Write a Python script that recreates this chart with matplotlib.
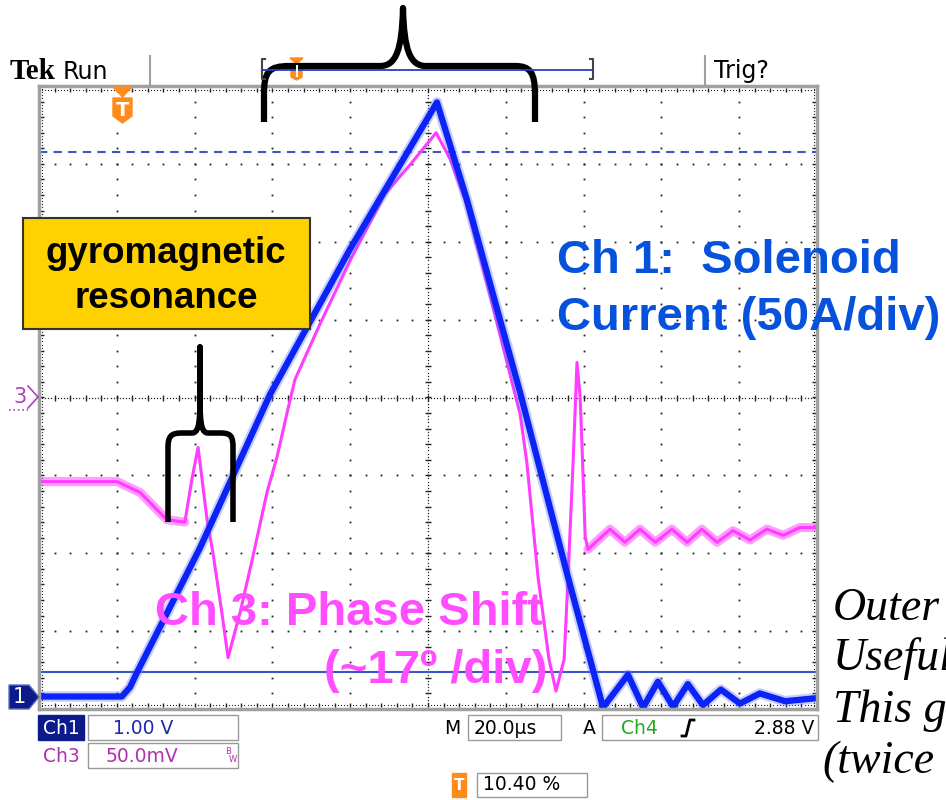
import numpy as np
import matplotlib.pyplot as plt
from matplotlib.path import Path
from matplotlib.patches import PathPatch, Rectangle, Polygon

# scope screen: 20 us/div over 10 div, levels in screen divisions (-4..4)
ch1_t = [0.0, 21.3, 23.4, 25.2, 41.4, 59.4, 79.9, 102.3, 110.0, 123.7, 136.0,
         145.0, 151.4, 155.3, 159.1, 163.0, 166.8, 170.7, 175.3, 180.2, 185.3,
         191.8, 200.0]
ch1_v = [-3.84, -3.84, -3.72, -3.53, -1.93, 0.04, 1.90, 3.79, 2.54, 0.06, -2.31,
         -3.98, -3.56, -3.98, -3.65, -3.97, -3.68, -3.95, -3.75, -3.93, -3.80,
         -3.90, -3.86]

ch3_t = [0.0, 20.1, 26.0, 30.3, 32.9, 37.5, 39.3, 40.9, 43.2, 44.7, 47.0, 48.6,
         51.7, 55.0, 58.6, 61.2, 63.8, 65.8, 72.2, 79.9, 88.9, 95.4, 102.1,
         105.7, 109.5, 115.9, 123.7, 125.4, 128.3, 131.1, 132.9, 135.0, 136.0,
         137.3, 138.3, 139.1, 139.6, 140.4, 141.1, 146.8, 150.6, 154.5, 158.4,
         162.7, 166.6, 170.4, 174.3, 178.4, 182.8, 187.1, 191.3, 195.6, 200.0]
ch3_v = [-1.08, -1.08, -1.22, -1.44, -1.57, -1.60, -1.05, -0.64, -1.57, -1.99,
         -2.76, -3.34, -2.76, -2.04, -1.22, -0.76, -0.19, 0.23, 0.94, 1.75, 2.61,
         2.99, 3.40, 3.06, 2.54, 1.32, -0.22, -0.83, -2.31, -3.36, -3.77, -3.36,
         -2.31, -0.83, 0.45, 0.01, -0.63, -1.78, -1.95, -1.69, -1.86, -1.69,
         -1.86, -1.69, -1.86, -1.69, -1.86, -1.71, -1.83, -1.69, -1.77, -1.67,
         -1.67]

cursor_dash = 3.15
cursor_solid = -3.53

BLUE = '#0b24f5'
MAG = '#ff3cff'
TXT_BLUE = '#0652dd'
TXT_MAG = '#ff4dff'
ORANGE = '#ff8c1a'
NAVY = '#0c1a8a'

fig = plt.figure(figsize=(9.46, 8), dpi=100)
ax = fig.add_axes([39/946, 91/800, 778/946, 623/800])
ax.set_xlim(0, 200)
ax.set_ylim(-4, 4)
ax.set_xticks([])
ax.set_yticks([])
for s in ax.spines.values():
    s.set_color('#a0a0a0')
    s.set_linewidth(2.5)

# graticule
dk = '#222222'
for gx in range(20, 200, 20):
    if gx == 100:
        continue
    ys = np.arange(-3.8, 3.81, 0.2)
    ax.plot([gx]*len(ys), ys, ls='none', marker='s', ms=1.3, mew=0, color=dk)
for gy in [-3, -2, -1, 1, 2, 3]:
    xs = np.arange(4, 197, 4)
    ax.plot(xs, [gy]*len(xs), ls='none', marker='s', ms=1.3, mew=0, color=dk)
# centre lines
ys = np.arange(-4, 4.001, 0.04)
ax.plot([100]*len(ys), ys, ls='none', marker='s', ms=0.9, mew=0, color=dk)
yt = np.arange(-3.8, 3.81, 0.2)
ax.plot([100]*len(yt), yt, ls='none', marker='_', ms=5, mew=1, color=dk)
xs = np.arange(0, 200.01, 0.8)
ax.plot(xs, [0]*len(xs), ls='none', marker='s', ms=0.9, mew=0, color=dk)
xt = np.arange(4, 197, 4)
ax.plot(xt, [0]*len(xt), ls='none', marker='|', ms=5, mew=1, color=dk)
# border rulers
xs = np.arange(0.8, 199.3, 0.8)
for by in (3.95, -3.95):
    ax.plot(xs, [by]*len(xs), ls='none', marker='s', ms=0.8, mew=0, color=dk)
    ax.plot(xt, [by]*len(xt), ls='none', marker='|', ms=3.5, mew=1, color=dk)
ys = np.arange(-3.96, 3.97, 0.04)
for bx in (0.8, 199.2):
    ax.plot([bx]*len(ys), ys, ls='none', marker='s', ms=0.8, mew=0, color=dk)
    ax.plot([bx]*len(yt), yt, ls='none', marker='_', ms=3.5, mew=1, color=dk)

# cursors
ax.axhline(cursor_dash, color='#3a56c8', lw=1.5, dashes=(4, 3))
ax.axhline(cursor_solid, color='#3a56c8', lw=1.5)

# traces
t3 = np.array(ch3_t)
v3 = np.array(ch3_v)
flat1 = t3 <= 37.5
flat2 = t3 >= 141.1
ax.plot(t3[flat1], v3[flat1], color=MAG, lw=6.5, alpha=0.5, solid_capstyle='round')
ax.plot(t3[flat2], v3[flat2], color=MAG, lw=6.5, alpha=0.5, solid_capstyle='round')
ax.plot(t3, v3, color=MAG, lw=2.2, solid_joinstyle='round')
ax.plot(ch1_t, ch1_v, color='#5a70ff', lw=7.5, alpha=0.35, solid_joinstyle='round')
ax.plot(ch1_t, ch1_v, color=BLUE, lw=4.5, solid_joinstyle='round')

# overlay in pixel coordinates
ov = fig.add_axes([0, 0, 1, 1], zorder=5)
ov.set_xlim(0, 946)
ov.set_ylim(800, 0)
ov.axis('off')

# header
ov.text(10, 79, 'Tek', family='Liberation Serif', weight='bold', fontsize=21)
ov.text(63, 79, 'Run', family='DejaVu Sans', fontsize=17)
ov.text(714, 78, 'Trig?', family='DejaVu Sans', fontsize=17)
ov.plot([150, 150], [56, 84], color='#a0a0a0', lw=1.5)
ov.plot([705, 705], [56, 84], color='#a0a0a0', lw=1.5)
ov.plot([265, 262, 262, 265], [59, 59, 79, 79], color='#444444', lw=1.5)
ov.plot([590, 593, 593, 590], [59, 59, 79, 79], color='#444444', lw=1.5)
ov.plot([262, 593], [70, 70], color='#2040c0', lw=1.3)
ov.add_patch(Polygon([(290, 58), (303, 58), (296.5, 64)], color=ORANGE))
ov.add_patch(Polygon([(291, 64), (302, 64), (302, 77), (296.5, 80), (291, 77)], color=ORANGE))
ov.plot([296.5, 296.5], [66, 76], color='white', lw=1.5)

# trigger marker
ov.add_patch(Polygon([(113, 87), (132, 87), (122.5, 97)], color=ORANGE))
ov.add_patch(Polygon([(113, 98), (132, 98), (132, 116), (122.5, 123), (113, 116)], color=ORANGE))
ov.text(122.5, 110, 'T', color='white', weight='bold', fontsize=14, ha='center', va='center')

# channel markers
ov.text(20, 397, '3', color='#b040c0', fontsize=15, ha='center', va='center')
ov.plot([28, 38, 28], [386, 397, 408], color='#b040c0', lw=1.2)
ov.plot([9, 28], [410, 410], color='#b040c0', lw=1.2, ls=':')
ov.add_patch(Polygon([(9, 685), (29, 685), (39, 697), (29, 709), (9, 709)],
                     facecolor=NAVY, edgecolor='#6070c0', lw=1))
ov.text(19, 697, '1', color='white', fontsize=15, ha='center', va='center')

# braces
P = Path
big = [(264, 122), (264, 95), (264, 72), (268, 66), (290, 66), (380, 66),
       (396, 66), (402, 50), (403, 8), (404, 50), (410, 66), (426, 66),
       (515, 66), (530, 66), (535, 72), (535, 95), (535, 122)]
big_codes = [P.MOVETO, P.LINETO, P.CURVE4, P.CURVE4, P.CURVE4, P.LINETO,
             P.CURVE4, P.CURVE4, P.CURVE4, P.CURVE4, P.CURVE4, P.CURVE4,
             P.LINETO, P.CURVE4, P.CURVE4, P.CURVE4, P.LINETO]
ov.add_patch(PathPatch(Path(big, big_codes), fill=False, lw=4.5, color='black',
                       capstyle='butt', joinstyle='round'))
small = [(168, 522), (168, 448), (168, 436), (171, 433), (182, 433), (192, 433),
         (198, 433), (200, 425), (200, 400), (200, 347), (200, 400), (200, 425),
         (202, 433), (208, 433), (220, 433), (231, 433), (233, 436), (233, 448),
         (233, 522)]
small_codes = [P.MOVETO, P.LINETO, P.CURVE4, P.CURVE4, P.CURVE4, P.LINETO,
               P.CURVE4, P.CURVE4, P.CURVE4, P.LINETO, P.LINETO, P.CURVE4,
               P.CURVE4, P.CURVE4, P.LINETO, P.CURVE4, P.CURVE4, P.CURVE4,
               P.LINETO]
ov.add_patch(PathPatch(Path(small, small_codes), fill=False, lw=4, color='black',
                       capstyle='butt', joinstyle='round'))

# annotation box
ov.add_patch(Rectangle((23, 218), 287, 111, facecolor='#ffd100', edgecolor='#333333', lw=1.5))
ov.text(166, 263, 'gyromagnetic', family='Liberation Sans', weight='bold',
        fontsize=26.5, ha='center', va='baseline')
ov.text(166, 308, 'resonance', family='Liberation Sans', weight='bold',
        fontsize=26.5, ha='center', va='baseline')

# channel labels
ov.text(557, 273, 'Ch 1:  Solenoid', family='Liberation Sans', weight='bold',
        fontsize=34, color=TXT_BLUE, va='baseline')
ov.text(557, 330, 'Current (50A/div)', family='Liberation Sans', weight='bold',
        fontsize=34, color=TXT_BLUE, va='baseline')
ov.text(155, 625, 'Ch 3: Phase Shift', family='Liberation Sans', weight='bold',
        fontsize=34, color=TXT_MAG, va='baseline')
ov.text(324, 683, '(~17º /div)', family='Liberation Sans', weight='bold',
        fontsize=34, color=TXT_MAG, va='baseline')

# side note (cut off at the right edge)
for s, x, y in [('Outer', 833, 620), ('Useful', 833, 670),
                ('This g', 833, 722), ('(twice', 822, 773)]:
    ov.text(x, y, s, family='Liberation Serif', style='italic', fontsize=33,
            va='baseline')

# readouts
rf = dict(family='DejaVu Sans', fontsize=13.5, va='center')
ov.add_patch(Rectangle((38, 715), 46, 25, color=NAVY))
ov.text(61, 728, 'Ch1', color='white', ha='center', **rf)
ov.add_patch(Rectangle((88, 715), 150, 25, facecolor='white', edgecolor='#999999', lw=1))
ov.text(113, 728, '1.00 V', color='#1d2ab0', **rf)
ov.text(61, 756, 'Ch3', color='#b030b0', ha='center', **rf)
ov.add_patch(Rectangle((88, 743), 150, 25, facecolor='white', edgecolor='#999999', lw=1))
ov.text(106, 756, '50.0mV', color='#b030b0', **rf)
ov.text(225, 751, 'B', color='#b030b0', fontsize=6, va='center')
ov.text(229, 759, 'W', color='#b030b0', fontsize=6, va='center')
ov.text(444, 728, 'M', color='black', **rf)
ov.add_patch(Rectangle((468, 715), 93, 25, facecolor='white', edgecolor='#999999', lw=1))
ov.text(474, 728, '20.0µs', color='black', **rf)
ov.text(583, 728, 'A', color='black', **rf)
ov.add_patch(Rectangle((602, 715), 216, 25, facecolor='white', edgecolor='#999999', lw=1))
ov.text(621, 728, 'Ch4', color='#22aa22', **rf)
ov.plot([682, 686, 690, 694], [736, 736, 720, 720], color='black', lw=2)
ov.text(814, 728, '2.88 V', color='black', ha='right', **rf)
ov.add_patch(Rectangle((452, 773), 14, 24, color=ORANGE))
ov.text(459, 785, 'T', color='white', fontsize=11, weight='bold', ha='center', va='center')
ov.add_patch(Rectangle((477, 773), 110, 24, facecolor='white', edgecolor='#999999', lw=1))
ov.text(483, 785, '10.40 %', color='black', **rf)

fig.savefig('out.png', dpi=100)
